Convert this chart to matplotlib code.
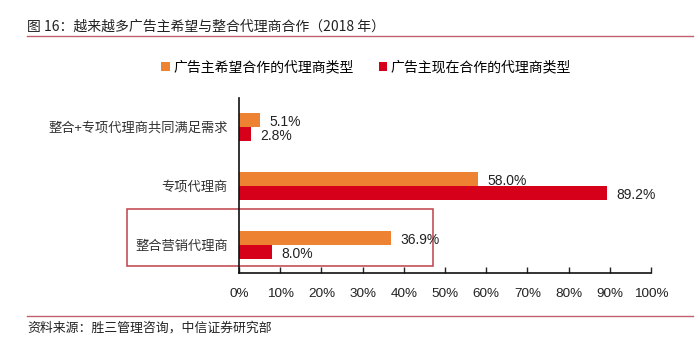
import matplotlib
matplotlib.use("Agg")
import matplotlib.pyplot as plt
from matplotlib.patches import Rectangle
from matplotlib.lines import Line2D
import numpy as np

plt.rcParams['font.family'] = ['Noto Sans CJK SC', 'DejaVu Sans']

# ---- data ----
categories = ['整合+专项代理商共同满足需求', '专项代理商', '整合营销代理商']
hope_values = [5.1, 58.0, 36.9]      # 广告主希望合作的代理商类型
current_values = [2.8, 89.2, 8.0]    # 广告主现在合作的代理商类型
series_names = ['广告主希望合作的代理商类型', '广告主现在合作的代理商类型']
x_ticks = [0, 10, 20, 30, 40, 50, 60, 70, 80, 90, 100]
title = '图 16：越来越多广告主希望与整合代理商合作（2018 年）'
source = '资料来源：胜三管理咨询，中信证券研究部'

ORANGE = '#EE8233'
RED = '#D7001A'
LINE = '#C06070'
BOX = '#C0404A'
NUMFONT = ['Liberation Sans', 'DejaVu Sans']

W, H = 700, 357
fig = plt.figure(figsize=(7.0, 3.57), dpi=100)
ax = fig.add_axes([239 / W, 1 - 273 / H, (651 - 239) / W, (273 - 98) / H])

n = len(categories)
pos = np.arange(n)[::-1]  # top category at highest position
bh = 0.237
b1 = ax.barh(pos + bh / 2, hope_values, height=bh, color=ORANGE, label=series_names[0])
b2 = ax.barh(pos - bh / 2, current_values, height=bh, color=RED, label=series_names[1])

for bars, vals in ((b1, hope_values), (b2, current_values)):
    for rect, v in zip(bars, vals):
        ax.annotate(f'{v:.1f}%', xy=(rect.get_width(), rect.get_y() + rect.get_height() / 2),
                    xytext=(7, -1.5), textcoords='offset points', va='center', ha='left',
                    fontsize=10, family=NUMFONT, color='#222222')

ax.set_xlim(0, 100)
ax.set_ylim(-0.475, n - 1 + 0.49)
ax.set_xticks(x_ticks)
ax.set_xticklabels([f'{t}%' for t in x_ticks], family=NUMFONT, fontsize=9.7, color='#222222')
ax.set_yticks(pos)
ax.set_yticklabels(categories, fontsize=9.5, color='#333333')
ax.tick_params(axis='x', direction='in', length=4, width=1, pad=10.5, color='#222222')
ax.tick_params(axis='y', length=0, pad=8)
for s in ('top', 'right'):
    ax.spines[s].set_visible(False)
for s in ('left', 'bottom'):
    ax.spines[s].set_color('#111111')
    ax.spines[s].set_linewidth(1.2)

# highlight box around the integrated-agency category
rect = Rectangle((-27.2, -0.356), 47.1 + 27.2, 0.61 + 0.356, fill=False,
                 edgecolor=BOX, linewidth=1.1, clip_on=False, transform=ax.transData)
ax.add_patch(rect)

# legend
leg = fig.legend(handles=[b1, b2], labels=series_names, loc='center',
                 bbox_to_anchor=(366 / W, 1 - 67 / H), ncol=2, frameon=False,
                 fontsize=10, handlelength=0.6, handleheight=0.6, handletextpad=0.25,
                 columnspacing=1.8)

# title and source with rules
fig.text(27 / W, 1 - 27 / H, title, fontsize=10, color='#222222', va='center', ha='left')
fig.add_artist(Line2D([27 / W, 693 / W], [1 - 36 / H, 1 - 36 / H], color=LINE, lw=1.0))
fig.add_artist(Line2D([27 / W, 693 / W], [1 - 316 / H, 1 - 316 / H], color=LINE, lw=1.0))
fig.text(27 / W, 1 - 328 / H, source, fontsize=9.3, color='#222222', va='center', ha='left')

fig.savefig('out.png', dpi=100)
